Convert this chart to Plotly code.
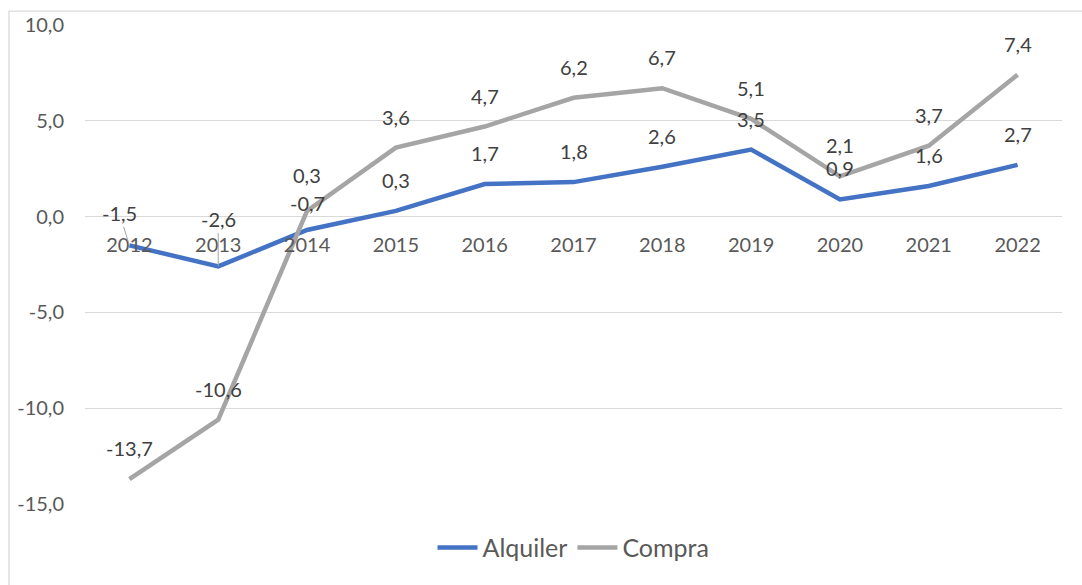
import plotly.graph_objects as go

years = ["2012", "2013", "2014", "2015", "2016", "2017", "2018", "2019", "2020", "2021", "2022"]
alquiler = [-1.5, -2.6, -0.7, 0.3, 1.7, 1.8, 2.6, 3.5, 0.9, 1.6, 2.7]
compra = [-13.7, -10.6, 0.3, 3.6, 4.7, 6.2, 6.7, 5.1, 2.1, 3.7, 7.4]
y_ticks = [-15, -10, -5, 0, 5, 10]

BLUE = "#4472C4"
GREY = "#A5A5A5"
FONT = "Lato"
FS = 20

W, H = 1082, 585
L, R, T, B = 85, 20, 22, 81
pw, ph = W - L - R, H - T - B

def fmt(v):
    return f"{v:.1f}".replace(".", ",")

fig = go.Figure()
fig.add_trace(go.Scatter(x=years, y=alquiler, mode="lines", name="Alquiler",
                         line=dict(color=BLUE, width=4.5)))
fig.add_trace(go.Scatter(x=years, y=compra, mode="lines", name="Compra",
                         line=dict(color=GREY, width=4.5)))

# data labels above each point; two of them pulled away with a leader line,
# and the crowded pair at 2014 spread slightly apart
moved = {("a", 0): (-10, -32), ("a", 1): (0, -47)}
shift = {("a", 2): 27, ("c", 2): 36}
ann = []
for key, vals in (("a", alquiler), ("c", compra)):
    for i, v in enumerate(vals):
        if (key, i) in moved:
            ax, ay = moved[(key, i)]
            ann.append(dict(x=i, y=v, xref="x", yref="y", text=fmt(v),
                            showarrow=True, arrowhead=0, arrowwidth=1, arrowcolor="#A6A6A6",
                            ax=ax, ay=ay, standoff=0,
                            font=dict(family=FONT, size=FS, color="#404040")))
        else:
            ann.append(dict(x=i, y=v, xref="x", yref="y", text=fmt(v),
                            showarrow=False, yshift=shift.get((key, i), 31), yanchor="middle",
                            font=dict(family=FONT, size=FS, color="#404040")))

# outer chart-area frame
def px_to_paper_x(p):
    return (p - L) / pw

def px_to_paper_y(p):
    return (H - B - p) / ph

shapes = [dict(type="rect", xref="paper", yref="paper",
               x0=px_to_paper_x(9), x1=px_to_paper_x(1095),
               y0=px_to_paper_y(600), y1=px_to_paper_y(8),
               line=dict(color="#D9D9D9", width=1.3), fillcolor="rgba(0,0,0,0)", layer="below")]

fig.update_layout(
    width=W, height=H,
    margin=dict(l=L, r=R, t=T, b=B),
    paper_bgcolor="white", plot_bgcolor="white",
    showlegend=True,
    legend=dict(orientation="h", x=0.5, xanchor="center", y=px_to_paper_y(548), yanchor="middle",
                font=dict(family=FONT, size=25, color="#595959"), itemwidth=40),
    annotations=ann,
    shapes=shapes,
    xaxis=dict(type="category", range=[-0.5, 10.5], showgrid=False, showline=False,
               zeroline=False, ticks="", anchor="free", position=15 / 25,
               tickfont=dict(family=FONT, size=FS, color="#595959"), ticklabelstandoff=14),
    yaxis=dict(range=[-15, 10], tickvals=y_ticks, ticktext=[fmt(t) for t in y_ticks],
               showgrid=True, gridcolor="#D9D9D9", gridwidth=1.3, zeroline=False,
               showline=False, ticks="",
               tickfont=dict(family=FONT, size=FS, color="#595959"), ticklabelstandoff=20),
)

fig.write_html("out.html")
